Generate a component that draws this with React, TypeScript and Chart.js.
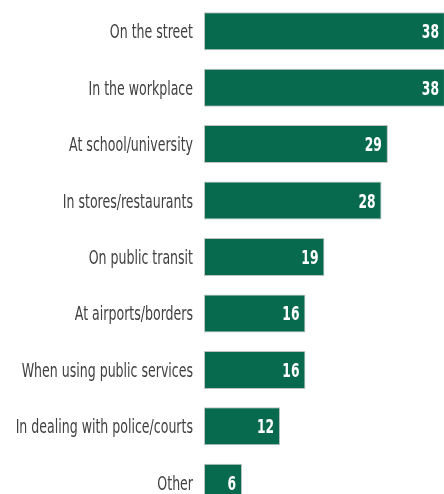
import React, { useEffect, useRef } from "react";
import { Chart, registerables } from "chart.js";

Chart.register(...registerables);

const categories = [
  "On the street",
  "In the workplace",
  "At school/university",
  "In stores/restaurants",
  "On public transit",
  "At airports/borders",
  "When using public services",
  "In dealing with police/courts",
  "Other",
];
const values = [38, 38, 29, 28, 19, 16, 16, 12, 6];

const FONT_FAMILY = "'DejaVu Sans Condensed', 'Liberation Sans Narrow', sans-serif";
const SQUEEZE = 0.735;

const labelPlugin = {
  id: "condensedLabels",
  afterDatasetsDraw(chart: any) {
    const { ctx, chartArea } = chart;
    const meta = chart.getDatasetMeta(0);
    const yScale = chart.scales.y;
    ctx.save();
    ctx.textAlign = "right";
    ctx.textBaseline = "alphabetic";
    ctx.font = `19px ${FONT_FAMILY}`;
    ctx.fillStyle = "#404040";
    categories.forEach((c, i) => {
      const y = yScale.getPixelForValue(i);
      const xr = chartArea.left - 11;
      ctx.save();
      ctx.translate(xr, y + 7);
      ctx.scale(SQUEEZE, 1);
      ctx.fillText(c, 0, 0);
      ctx.restore();
    });
    ctx.font = `bold 19px ${FONT_FAMILY}`;
    ctx.fillStyle = "#ffffff";
    meta.data.forEach((bar: any, i: number) => {
      ctx.save();
      ctx.translate(bar.x - 6, bar.y + 7);
      ctx.scale(0.72, 1);
      ctx.fillText(String(values[i]), 0, 0);
      ctx.restore();
    });
    ctx.restore();
  },
};

export default function App() {
  const ref = useRef<HTMLCanvasElement | null>(null);
  useEffect(() => {
    if (!ref.current) return;
    const chart = new Chart(ref.current, {
      type: "bar",
      data: {
        labels: categories,
        datasets: [
          {
            data: values,
            backgroundColor: "#076a4e",
            borderColor: "#bfc3c1",
            borderWidth: 1,
            borderSkipped: false,
            categoryPercentage: 1,
            barPercentage: 0.673,
          },
        ],
      },
      options: {
        indexAxis: "y",
        animation: false,
        responsive: false,
        maintainAspectRatio: false,
        layout: { padding: { top: 3, right: 0, bottom: 0, left: 0 } },
        plugins: { legend: { display: false }, tooltip: { enabled: false } },
        scales: {
          x: {
            display: false,
            min: 0,
            max: 37.85,
          },
          y: {
            afterFit: (scale: any) => {
              scale.width = 204;
              scale.paddingTop = 0;
              scale.paddingBottom = 0;
            },
            grid: { display: false, drawTicks: false },
            border: { display: false },
            ticks: { display: false },
          },
        },
      },
      plugins: [labelPlugin],
    });
    return () => chart.destroy();
  }, []);
  return (
    <div style={{ position: "absolute", left: 0, top: 0, width: 444, height: 494, overflow: "hidden", background: "#fff" }}>
      <canvas ref={ref} width={444} height={511} style={{ display: "block" }} />
    </div>
  );
}
